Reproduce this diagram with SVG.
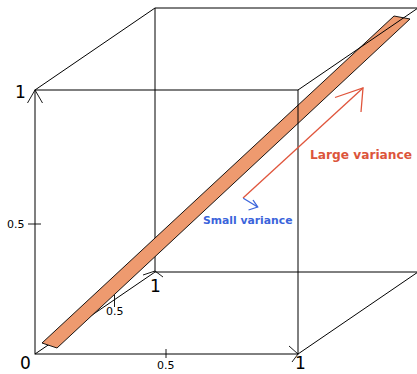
<svg xmlns="http://www.w3.org/2000/svg" width="417" height="374" viewBox="0 0 417 374">
<style>
.ax{stroke:#000;stroke-width:1;fill:none}
.tk{stroke:#000;stroke-width:0.9;fill:none}
.lb{font-family:"DejaVu Sans",sans-serif;fill:#000}
.big{font-size:17px}
.sm{font-size:11px}
</style>
<rect width="417" height="374" fill="#fff"/>
<g id="connectors">
<line class="ax" x1="155" y1="8" x2="155" y2="272"/>
<line class="ax" x1="155" y1="272" x2="418" y2="272"/>
<line class="ax" x1="35" y1="354" x2="155" y2="272"/>
</g>
<g id="band">
<polygon points="42,343 57,348 410,19 394,16" fill="#ee9a6f" stroke="#000" stroke-width="0.9" stroke-linejoin="miter"/>
</g>
<g id="cube">
<line class="ax" x1="155" y1="8" x2="418" y2="8"/>
<line class="ax" x1="35" y1="90" x2="155" y2="8"/>
<line class="ax" x1="298" y1="90" x2="418" y2="8"/>
<line class="ax" x1="298" y1="354" x2="418" y2="272"/>
<rect class="ax" x="35" y="90" width="263" height="264"/>
</g>
<g id="ticks">
<polyline class="tk" points="27.5,103 35,90 42.5,103"/>
<polyline class="tk" points="143,275 155,271 163,277"/>
<polyline class="tk" points="289,346 298,354 292,362"/>
<line class="tk" x1="28" y1="224" x2="41" y2="224"/>
<line class="tk" x1="114.5" y1="295" x2="114.5" y2="307"/>
<line class="tk" x1="166" y1="349" x2="166" y2="358"/>
</g>
<g id="labels">
<text class="lb big" x="15" y="98">1</text>
<text class="lb big" x="20" y="369">0</text>
<text class="lb big" x="150" y="292">1</text>
<text class="lb big" x="295" y="369">1</text>
<text class="lb sm" x="7" y="228">0.5</text>
<text class="lb sm" x="106" y="315">0.5</text>
<text class="lb sm" x="157" y="369">0.5</text>
</g>
<g id="large-variance">
<line x1="243" y1="198" x2="363" y2="88" stroke="#e0553c" stroke-width="1.3"/>
<polyline points="335,97.5 363,88 361,112" fill="none" stroke="#e0553c" stroke-width="1.3"/>
<text x="310" y="159" font-family="DejaVu Sans,sans-serif" font-size="12.2" font-weight="bold" fill="#dc553b">Large variance</text>
</g>
<g id="small-variance">
<line x1="243.3" y1="198.3" x2="257.7" y2="207" stroke="#3b64db" stroke-width="1.3"/>
<polyline points="253,200 257.7,207 248.5,210" fill="none" stroke="#3b64db" stroke-width="1.3"/>
<text x="203" y="224" font-family="DejaVu Sans,sans-serif" font-size="10.8" font-weight="bold" fill="#3b64db">Small variance</text>
</g>
</svg>
